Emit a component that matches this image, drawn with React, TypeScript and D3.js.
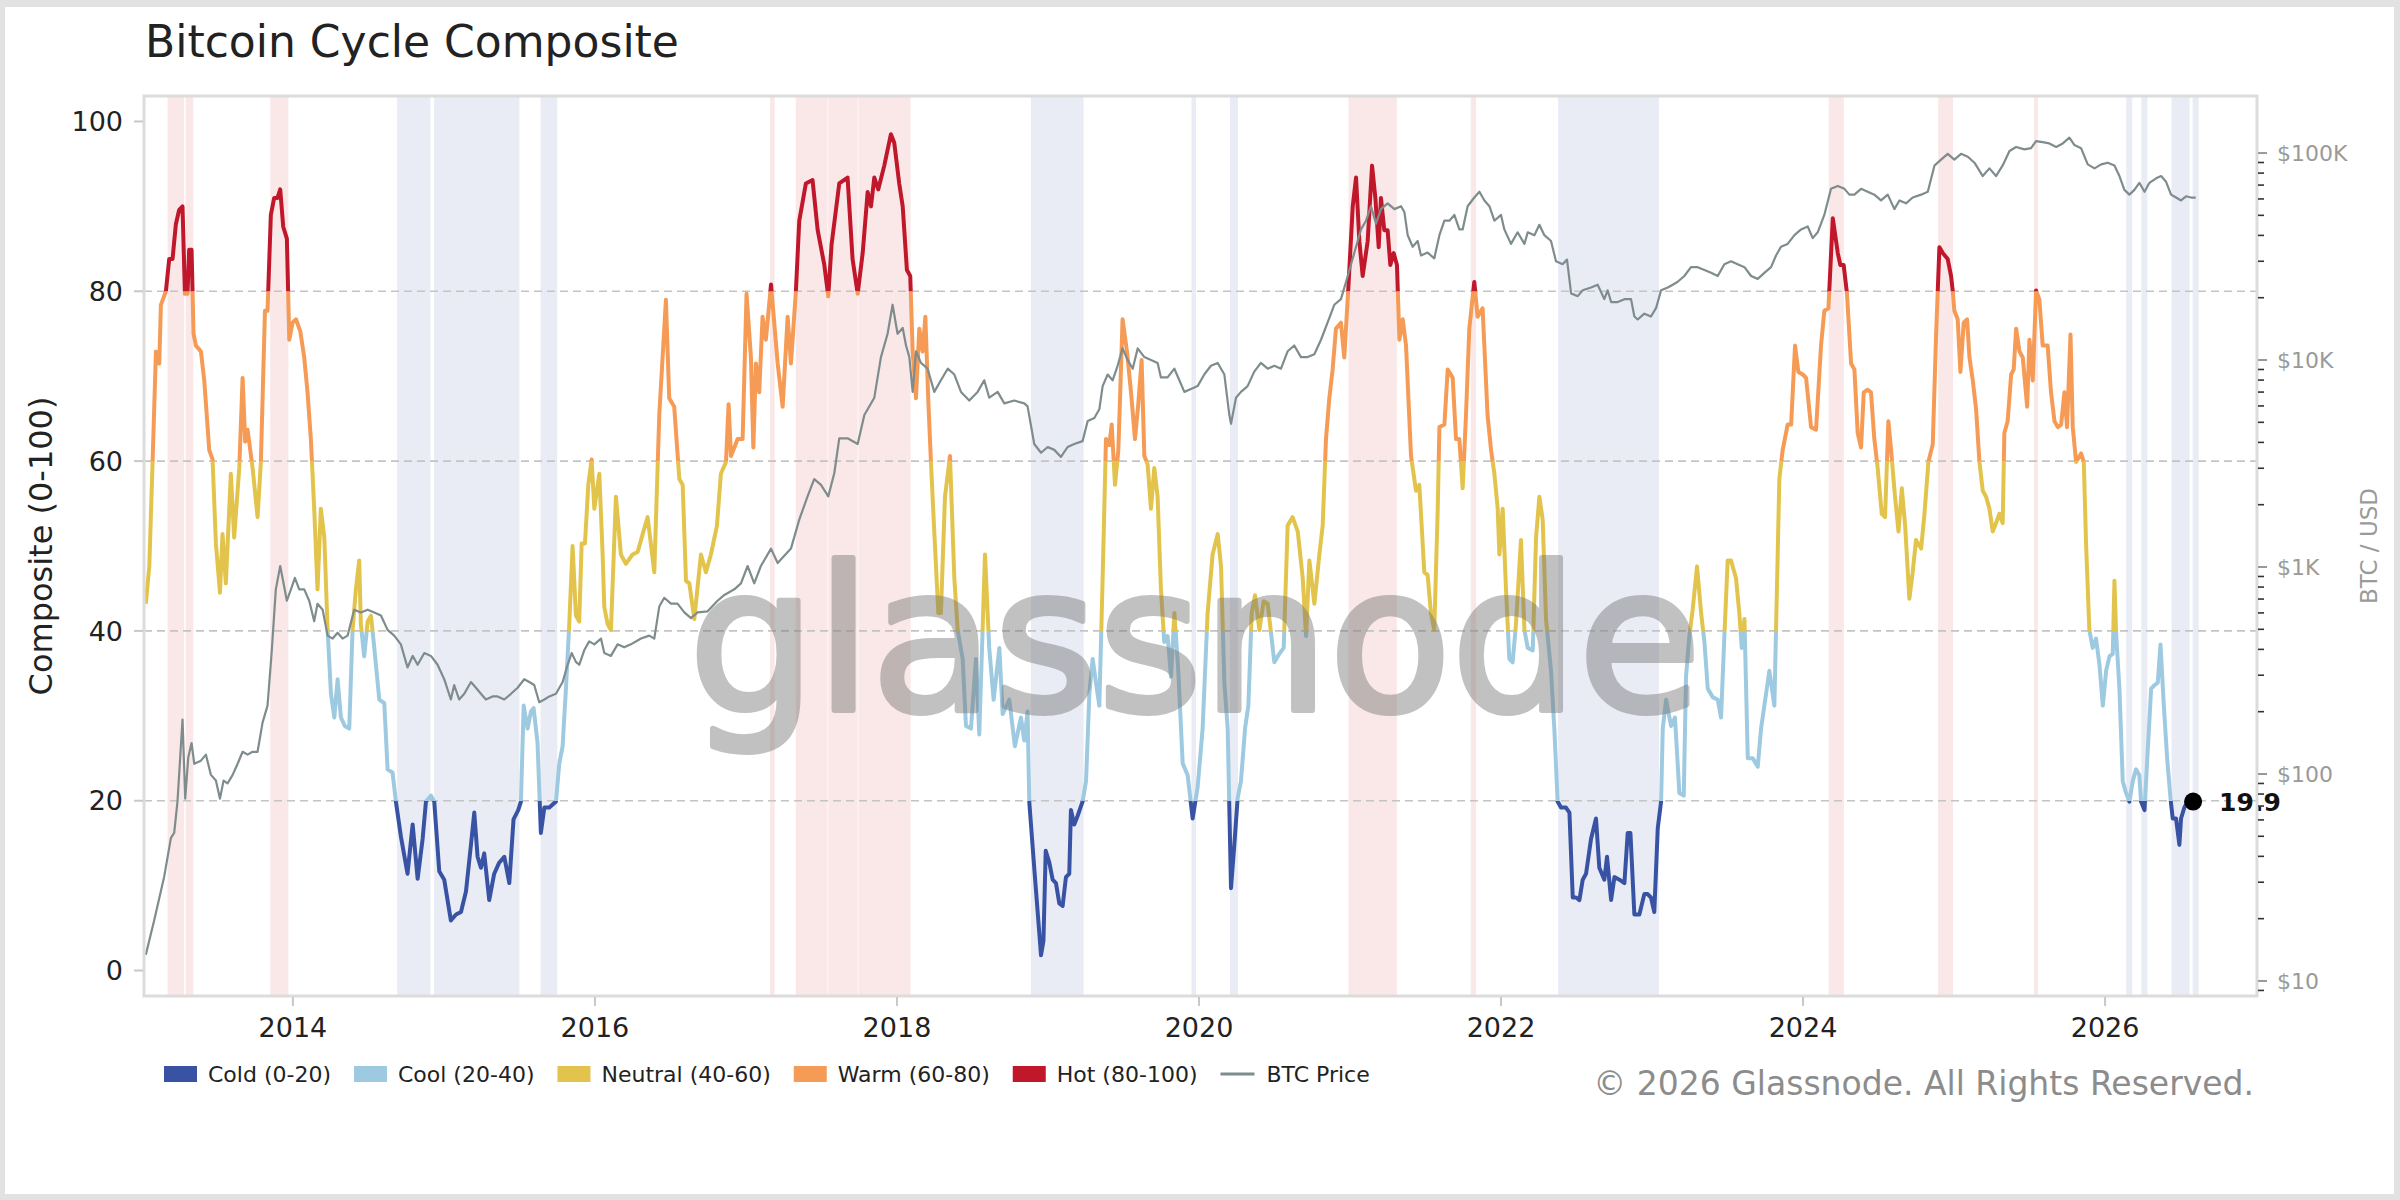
import { useEffect, useRef } from "react";
import * as d3 from "d3";

type Pt = [number, number];

// composite score (decimal year, 0-100)
const compositeA: Pt[] = [
  [2013.026, 43.2], [2013.049, 47.6], [2013.071, 60.0], [2013.093, 72.9], [2013.115, 71.5], [2013.126, 78.4],
  [2013.159, 80.0], [2013.181, 83.8], [2013.203, 83.8], [2013.225, 87.9], [2013.247, 89.6], [2013.269, 90.0],
  [2013.285, 79.7], [2013.302, 79.7], [2013.313, 84.9], [2013.329, 84.9], [2013.342, 75.0], [2013.358, 73.6],
  [2013.391, 72.9], [2013.413, 69.5], [2013.446, 61.3], [2013.468, 60.2], [2013.49, 50.3], [2013.517, 44.5],
  [2013.534, 51.4], [2013.556, 45.6], [2013.589, 58.5], [2013.611, 51.0], [2013.645, 59.2], [2013.667, 69.8],
  [2013.684, 62.3], [2013.7, 63.7], [2013.733, 59.2], [2013.766, 53.4], [2013.788, 59.9], [2013.815, 77.7],
  [2013.832, 77.7], [2013.854, 89.0], [2013.876, 91.0], [2013.898, 91.0], [2013.916, 92.0], [2013.936, 87.6],
  [2013.96, 86.2], [2013.976, 74.3], [2013.998, 76.3], [2014.02, 76.7], [2014.049, 75.3], [2014.075, 72.2],
  [2014.097, 68.1], [2014.119, 62.6], [2014.141, 54.4], [2014.163, 44.9], [2014.185, 54.4], [2014.208, 51.0],
  [2014.23, 40.1], [2014.252, 32.6], [2014.274, 29.8], [2014.296, 34.3], [2014.318, 29.8], [2014.344, 28.8],
  [2014.373, 28.5], [2014.395, 40.1], [2014.417, 44.9], [2014.439, 48.3], [2014.45, 40.8], [2014.472, 37.0],
  [2014.495, 41.1], [2014.517, 41.8], [2014.539, 38.0], [2014.572, 31.9], [2014.605, 31.5], [2014.627, 23.7],
  [2014.66, 23.3], [2014.682, 19.9], [2014.715, 15.8], [2014.759, 11.4], [2014.793, 17.2], [2014.826, 10.8],
  [2014.859, 15.5], [2014.881, 19.9], [2014.914, 20.6], [2014.936, 19.9], [2014.969, 11.7], [2015.002, 10.7],
  [2015.046, 5.9], [2015.08, 6.6], [2015.113, 6.9], [2015.146, 9.3], [2015.179, 14.8], [2015.201, 18.6],
  [2015.223, 13.4], [2015.245, 12.1], [2015.267, 13.8], [2015.3, 8.3], [2015.333, 11.4], [2015.366, 12.7],
  [2015.4, 13.4], [2015.433, 10.3], [2015.461, 17.8], [2015.492, 18.9], [2015.51, 19.9], [2015.528, 31.2],
  [2015.554, 28.5], [2015.576, 30.5], [2015.594, 30.9], [2015.62, 26.8], [2015.642, 16.2], [2015.665, 19.2],
  [2015.698, 19.2], [2015.742, 19.9], [2015.764, 24.4], [2015.786, 26.4], [2015.808, 33.2], [2015.83, 40.8],
  [2015.852, 50.0], [2015.874, 41.8], [2015.896, 41.1], [2015.912, 50.3], [2015.934, 50.3], [2015.956, 57.2],
  [2015.978, 60.2],
];

const compositeB: Pt[] = [
  [2015.996, 54.4], [2016.029, 58.5], [2016.051, 49.0], [2016.062, 42.8], [2016.084, 40.8], [2016.106, 40.1],
  [2016.139, 55.8], [2016.172, 49.0], [2016.205, 47.9], [2016.249, 49.0], [2016.283, 49.3], [2016.316, 51.4],
  [2016.349, 53.4], [2016.393, 46.9], [2016.426, 65.4], [2016.47, 79.0], [2016.492, 67.4], [2016.525, 66.4],
  [2016.559, 57.9], [2016.581, 57.2], [2016.603, 45.9], [2016.625, 45.6], [2016.658, 41.4], [2016.702, 49.0],
  [2016.735, 46.9], [2016.768, 49.0], [2016.808, 52.4], [2016.834, 58.5], [2016.868, 59.9], [2016.885, 66.7],
  [2016.901, 60.6], [2016.945, 62.6], [2016.978, 62.6], [2017.004, 79.7], [2017.033, 72.2], [2017.049, 61.6],
  [2017.066, 71.5], [2017.088, 68.1], [2017.11, 77.0], [2017.132, 74.3], [2017.166, 80.8], [2017.21, 71.5],
  [2017.243, 66.4], [2017.276, 77.0], [2017.298, 71.5], [2017.331, 80.1], [2017.353, 88.3], [2017.397, 92.7],
  [2017.441, 93.1], [2017.475, 87.2], [2017.519, 83.1], [2017.545, 79.4], [2017.567, 85.5], [2017.618, 92.7],
  [2017.673, 93.4], [2017.706, 83.8], [2017.74, 79.7], [2017.773, 84.5], [2017.806, 91.7], [2017.828, 90.0],
  [2017.85, 93.4], [2017.876, 92.0], [2017.916, 94.8], [2017.96, 98.5], [2017.982, 97.5], [2018.015, 92.7],
  [2018.038, 90.0], [2018.066, 82.5], [2018.088, 81.8], [2018.104, 72.9], [2018.126, 67.4], [2018.148, 75.6],
  [2018.17, 72.9], [2018.188, 77.0], [2018.207, 67.4], [2018.225, 59.9], [2018.247, 51.7], [2018.274, 42.1],
  [2018.291, 42.1], [2018.318, 55.8], [2018.351, 60.6], [2018.38, 46.2], [2018.402, 40.1], [2018.435, 36.7],
  [2018.457, 28.8], [2018.49, 28.5], [2018.523, 36.7], [2018.545, 27.8], [2018.583, 49.0], [2018.611, 38.0],
  [2018.64, 31.9], [2018.678, 38.0], [2018.7, 30.2], [2018.744, 31.9], [2018.781, 26.4], [2018.821, 29.8],
  [2018.843, 27.1], [2018.865, 30.5], [2018.876, 19.9], [2018.909, 12.1], [2018.954, 1.8], [2018.97, 3.5],
  [2018.985, 14.1],
];

const compositeC: Pt[] = [
  [2019.009, 12.7], [2019.031, 10.7], [2019.053, 10.3], [2019.075, 7.9], [2019.097, 7.6], [2019.119, 11.0],
  [2019.141, 11.4], [2019.152, 18.9], [2019.174, 17.2], [2019.196, 18.2], [2019.229, 19.9], [2019.252, 22.3],
  [2019.274, 32.6], [2019.296, 36.7], [2019.318, 33.9], [2019.34, 31.2], [2019.362, 46.2], [2019.384, 62.6],
  [2019.406, 61.9], [2019.422, 64.3], [2019.444, 57.2], [2019.466, 61.3], [2019.494, 76.7], [2019.523, 72.9],
  [2019.55, 68.1], [2019.576, 62.6], [2019.598, 66.7], [2019.62, 71.9], [2019.638, 60.6], [2019.66, 59.6],
  [2019.682, 54.4], [2019.704, 59.2], [2019.726, 55.8], [2019.748, 44.9], [2019.77, 38.7], [2019.792, 39.4],
  [2019.815, 34.6], [2019.837, 42.1], [2019.863, 35.3], [2019.892, 24.4], [2019.925, 23.0], [2019.958, 17.9],
  [2019.991, 21.6], [2020.024, 28.5], [2020.057, 42.1], [2020.09, 49.0], [2020.124, 51.4], [2020.146, 47.6],
  [2020.168, 33.9], [2020.19, 28.5], [2020.212, 9.7], [2020.234, 14.8], [2020.256, 20.3], [2020.278, 22.3],
  [2020.305, 28.5], [2020.327, 31.2], [2020.349, 42.1], [2020.371, 44.2], [2020.4, 40.1], [2020.428, 43.5],
  [2020.455, 43.2], [2020.499, 36.3], [2020.532, 37.3], [2020.561, 38.0], [2020.587, 52.4], [2020.62, 53.4],
  [2020.654, 51.7], [2020.687, 46.2], [2020.709, 39.4], [2020.731, 48.3], [2020.764, 43.2], [2020.797, 49.0],
  [2020.819, 52.4], [2020.841, 62.6], [2020.863, 67.4], [2020.885, 70.8], [2020.907, 75.6], [2020.94, 76.3],
  [2020.962, 72.2], [2020.989, 80.4], [2021.018, 90.0], [2021.04, 93.4], [2021.062, 85.9], [2021.084, 81.8],
  [2021.117, 85.9], [2021.146, 94.8], [2021.168, 91.0], [2021.19, 85.2], [2021.205, 91.0], [2021.227, 87.2],
  [2021.249, 87.2], [2021.267, 83.1], [2021.289, 84.5], [2021.311, 83.1], [2021.327, 74.3], [2021.349, 76.7],
  [2021.371, 73.6], [2021.404, 60.6], [2021.437, 56.5], [2021.459, 57.2], [2021.492, 46.9], [2021.514, 46.6],
  [2021.536, 42.1], [2021.558, 40.1], [2021.581, 54.4], [2021.592, 64.0], [2021.625, 64.3], [2021.647, 70.8],
  [2021.68, 69.8], [2021.702, 62.6], [2021.724, 62.6], [2021.746, 56.8], [2021.768, 65.4], [2021.79, 75.6],
  [2021.823, 81.1], [2021.845, 77.0], [2021.878, 78.0], [2021.911, 65.4], [2021.934, 61.3], [2021.956, 58.5],
  [2021.978, 54.4],
];

const compositeD: Pt[] = [
  [2021.989, 49.0], [2022.011, 54.4], [2022.033, 44.9], [2022.055, 36.7], [2022.077, 36.3], [2022.099, 40.8],
  [2022.132, 50.7], [2022.155, 40.1], [2022.177, 38.0], [2022.21, 37.7], [2022.232, 51.0], [2022.254, 55.8],
  [2022.276, 53.1], [2022.298, 41.4], [2022.331, 35.3], [2022.353, 28.5], [2022.375, 19.9], [2022.397, 19.2],
  [2022.43, 19.2], [2022.453, 18.6], [2022.475, 8.6], [2022.497, 8.6], [2022.519, 8.3], [2022.541, 10.7],
  [2022.563, 11.4], [2022.596, 15.5], [2022.629, 17.9], [2022.651, 12.1], [2022.684, 10.7], [2022.702, 13.4],
  [2022.729, 8.3], [2022.751, 11.0], [2022.784, 10.7], [2022.817, 10.3], [2022.839, 16.2], [2022.857, 16.2],
  [2022.883, 6.6], [2022.916, 6.6], [2022.949, 9.0], [2022.971, 9.0], [2022.993, 8.6], [2023.015, 6.9],
  [2023.038, 16.8], [2023.06, 19.9], [2023.071, 28.5], [2023.093, 31.9], [2023.126, 28.8], [2023.152, 29.8],
  [2023.181, 20.9], [2023.21, 20.6], [2023.225, 34.6], [2023.247, 39.4], [2023.269, 42.5], [2023.298, 47.6],
  [2023.325, 42.1], [2023.347, 38.7], [2023.369, 33.2], [2023.402, 32.2], [2023.435, 31.9], [2023.457, 29.8],
  [2023.479, 39.4], [2023.501, 48.3], [2023.523, 48.3], [2023.556, 46.2], [2023.578, 42.1], [2023.594, 38.0],
  [2023.612, 41.4], [2023.634, 25.0], [2023.667, 25.0], [2023.7, 24.0], [2023.722, 28.5], [2023.755, 32.6],
  [2023.777, 35.3], [2023.81, 31.2], [2023.821, 40.1], [2023.843, 57.9], [2023.865, 61.3], [2023.898, 64.3],
  [2023.921, 64.3], [2023.947, 73.6], [2023.969, 70.5], [2023.998, 70.2], [2024.02, 69.8], [2024.053, 64.0],
  [2024.086, 63.7], [2024.119, 73.6], [2024.141, 77.7], [2024.168, 78.0], [2024.197, 88.6], [2024.23, 84.5],
  [2024.247, 83.1], [2024.269, 83.1], [2024.291, 79.7], [2024.318, 71.5], [2024.34, 70.8], [2024.362, 63.3],
  [2024.384, 61.6], [2024.402, 68.1], [2024.428, 68.4], [2024.45, 68.1], [2024.472, 62.6], [2024.494, 59.2],
  [2024.521, 53.8], [2024.543, 53.4], [2024.565, 64.7], [2024.583, 61.3], [2024.609, 55.8], [2024.632, 51.7],
  [2024.654, 56.8], [2024.676, 52.4], [2024.704, 43.8], [2024.726, 46.9], [2024.748, 50.7], [2024.782, 49.7],
  [2024.804, 53.8], [2024.83, 59.9], [2024.859, 62.0], [2024.881, 74.9], [2024.903, 85.2], [2024.925, 84.5],
  [2024.958, 83.8], [2024.98, 81.8], [2024.991, 80.1],
];

const compositeE: Pt[] = [
  [2025.002, 77.7], [2025.024, 76.7], [2025.042, 70.5], [2025.064, 76.3], [2025.086, 76.7], [2025.102, 72.2],
  [2025.124, 69.5], [2025.146, 66.1], [2025.168, 59.9], [2025.19, 56.5], [2025.212, 55.8], [2025.234, 54.4],
  [2025.256, 51.7], [2025.278, 52.7], [2025.3, 53.8], [2025.322, 52.7], [2025.333, 63.3], [2025.355, 64.7],
  [2025.378, 70.2], [2025.395, 70.8], [2025.411, 75.6], [2025.433, 72.9], [2025.455, 72.2], [2025.484, 66.4],
  [2025.499, 74.3], [2025.521, 69.5], [2025.543, 80.1], [2025.565, 79.0], [2025.587, 73.6], [2025.62, 73.6],
  [2025.642, 68.1], [2025.665, 64.7], [2025.687, 64.0], [2025.709, 64.3], [2025.731, 68.1], [2025.748, 64.0],
  [2025.771, 74.9], [2025.786, 64.0], [2025.808, 59.9], [2025.841, 60.9], [2025.859, 59.9], [2025.874, 50.3],
  [2025.896, 40.1], [2025.918, 38.0], [2025.94, 39.1], [2025.963, 36.0], [2025.985, 31.2], [2026.007, 35.3],
  [2026.029, 37.0], [2026.051, 37.3], [2026.062, 45.9], [2026.073, 39.7], [2026.095, 33.2], [2026.117, 22.3],
  [2026.139, 20.9], [2026.161, 19.9], [2026.183, 22.3], [2026.205, 23.7], [2026.227, 23.0], [2026.238, 19.9],
  [2026.261, 18.9], [2026.283, 26.1], [2026.305, 33.2], [2026.327, 33.6], [2026.349, 33.9], [2026.367, 38.4],
  [2026.389, 31.2], [2026.411, 25.0], [2026.433, 20.3], [2026.448, 17.9], [2026.47, 17.9], [2026.492, 14.8],
  [2026.503, 17.9], [2026.525, 19.2], [2026.547, 19.9], [2026.583, 19.9],
];

// BTC price (decimal year, USD)
const priceA: Pt[] = [
  [2013.026, 13.4], [2013.082, 19.7], [2013.148, 32], [2013.192, 49], [2013.214, 52], [2013.236, 74],
  [2013.269, 183], [2013.287, 76], [2013.307, 120], [2013.329, 141], [2013.347, 112], [2013.391, 116],
  [2013.424, 124], [2013.457, 99], [2013.49, 93], [2013.517, 76], [2013.541, 93], [2013.567, 90],
  [2013.601, 99], [2013.634, 112], [2013.667, 128], [2013.7, 124], [2013.733, 128], [2013.766, 128],
  [2013.799, 177], [2013.832, 214], [2013.859, 384], [2013.887, 780], [2013.916, 1011], [2013.938, 834],
  [2013.96, 687], [2013.987, 780], [2014.013, 887], [2014.042, 780], [2014.075, 780], [2014.108, 687],
  [2014.141, 547], [2014.163, 664], [2014.197, 622], [2014.23, 466], [2014.263, 451], [2014.296, 481],
  [2014.329, 451], [2014.362, 466], [2014.406, 622], [2014.45, 603], [2014.495, 622], [2014.539, 603],
  [2014.583, 583], [2014.627, 497], [2014.671, 466], [2014.715, 423], [2014.759, 327], [2014.793, 372],
  [2014.826, 337], [2014.87, 384], [2014.914, 372], [2014.958, 337], [2015.002, 287], [2015.046, 229],
  [2015.068, 269], [2015.101, 229], [2015.135, 244], [2015.179, 278], [2015.212, 261], [2015.245, 244],
  [2015.278, 229], [2015.322, 237], [2015.355, 237], [2015.4, 229], [2015.444, 244], [2015.488, 261],
  [2015.532, 287], [2015.565, 278], [2015.598, 269], [2015.631, 222], [2015.665, 229], [2015.698, 237],
  [2015.742, 244], [2015.786, 278], [2015.819, 337], [2015.846, 384], [2015.874, 348], [2015.896, 337],
  [2015.929, 396], [2015.962, 437], [2015.996, 423], [2016.04, 451],
];

const priceB: Pt[] = [
  [2016.062, 384], [2016.106, 372], [2016.15, 423], [2016.194, 409], [2016.238, 423], [2016.305, 451],
  [2016.36, 466], [2016.393, 451], [2016.426, 644], [2016.459, 710], [2016.503, 665], [2016.547, 665],
  [2016.592, 604], [2016.636, 566], [2016.68, 604], [2016.746, 611], [2016.812, 687], [2016.857, 733],
  [2016.923, 780], [2016.967, 834], [2017.011, 1011], [2017.055, 834], [2017.099, 1011], [2017.166, 1227],
  [2017.21, 1045], [2017.298, 1227], [2017.353, 1694], [2017.408, 2193], [2017.452, 2660], [2017.497, 2495],
  [2017.545, 2193], [2017.585, 2838], [2017.618, 4185], [2017.673, 4185], [2017.74, 3929], [2017.784, 5420],
  [2017.85, 6577], [2017.894, 10330], [2017.938, 13400], [2017.971, 18500], [2018.004, 13400], [2018.038, 14290],
  [2018.06, 11750], [2018.082, 10330], [2018.104, 7015], [2018.126, 11020], [2018.159, 9680], [2018.203, 9080],
  [2018.247, 7015], [2018.291, 7980], [2018.336, 9080], [2018.38, 8510], [2018.424, 7015], [2018.479, 6370],
  [2018.534, 7015], [2018.578, 7980], [2018.611, 6577], [2018.667, 7015], [2018.711, 6170], [2018.777, 6370],
  [2018.843, 6170], [2018.865, 5970], [2018.909, 3929], [2018.954, 3565],
];

const priceC: Pt[] = [
  [2018.998, 3800], [2019.042, 3680], [2019.086, 3404], [2019.13, 3800], [2019.174, 3929], [2019.229, 4055],
  [2019.263, 5070], [2019.307, 5245], [2019.34, 5780], [2019.362, 7480], [2019.395, 8510], [2019.428, 7980],
  [2019.461, 9380], [2019.494, 11380], [2019.528, 10000], [2019.561, 9080], [2019.594, 11380], [2019.638, 10330],
  [2019.682, 10000], [2019.726, 9680], [2019.748, 8240], [2019.792, 8240], [2019.837, 9080], [2019.87, 7980],
  [2019.903, 7015], [2019.947, 7240], [2019.991, 7480], [2020.035, 8510], [2020.079, 9380], [2020.124, 9680],
  [2020.168, 8510], [2020.201, 5420], [2020.212, 4920], [2020.245, 6577], [2020.278, 7015], [2020.322, 7480],
  [2020.366, 8790], [2020.41, 9680], [2020.455, 9080], [2020.499, 9380], [2020.543, 9080], [2020.587, 11020],
  [2020.631, 11750], [2020.675, 10330], [2020.72, 10330], [2020.764, 10670], [2020.808, 12530], [2020.852, 15210],
  [2020.896, 18490], [2020.94, 19690], [2020.974, 23880], [2021.007, 29040], [2021.04, 35240], [2021.073, 42760],
  [2021.106, 47100], [2021.139, 55340], [2021.172, 45600], [2021.205, 53580], [2021.249, 57150], [2021.294, 53580],
  [2021.338, 55340], [2021.36, 51880], [2021.382, 40090], [2021.415, 35240], [2021.448, 37580], [2021.47, 31990],
  [2021.514, 33040], [2021.558, 30970], [2021.592, 40090], [2021.625, 47100], [2021.658, 47100], [2021.691, 50230],
  [2021.724, 42760], [2021.746, 42760], [2021.779, 55340], [2021.823, 60950], [2021.857, 65010], [2021.89, 59020],
  [2021.923, 55340], [2021.956, 47100], [2022.0, 50230],
];

const priceD: Pt[] = [
  [2022.022, 42760], [2022.066, 36390], [2022.11, 41400], [2022.155, 36390], [2022.177, 41400], [2022.221, 40090],
  [2022.254, 44980], [2022.287, 40090], [2022.331, 37580], [2022.364, 29990], [2022.408, 29040], [2022.437, 30550],
  [2022.464, 20990], [2022.508, 20350], [2022.541, 21720], [2022.596, 22410], [2022.64, 23120], [2022.684, 19680],
  [2022.706, 21720], [2022.729, 19060], [2022.773, 19060], [2022.817, 19680], [2022.861, 19680], [2022.883, 16220],
  [2022.905, 15700], [2022.949, 16750], [2022.993, 16220], [2023.027, 17870], [2023.06, 21720], [2023.104, 22410],
  [2023.137, 23120], [2023.17, 23880], [2023.214, 25460], [2023.258, 28100], [2023.302, 28100], [2023.347, 27230],
  [2023.391, 26380], [2023.435, 25460], [2023.479, 29040], [2023.523, 29990], [2023.567, 29040], [2023.612, 28100],
  [2023.656, 25460], [2023.7, 24660], [2023.744, 26380], [2023.788, 28100], [2023.821, 31990], [2023.854, 35240],
  [2023.898, 36390], [2023.943, 40090], [2023.987, 42760], [2024.031, 44160], [2024.064, 38810], [2024.097, 41400],
  [2024.141, 50230], [2024.185, 67140], [2024.23, 69340], [2024.274, 67140], [2024.307, 62950], [2024.34, 62950],
  [2024.384, 67140], [2024.428, 65010], [2024.472, 62950], [2024.516, 59020], [2024.561, 62950], [2024.605, 53580],
  [2024.638, 59020], [2024.682, 57150], [2024.726, 60950], [2024.782, 62950], [2024.826, 65010], [2024.87, 86900],
  [2024.914, 92900], [2024.958, 99100],
];

const priceE: Pt[] = [
  [2025.002, 92900], [2025.046, 99100], [2025.091, 96000], [2025.135, 89800], [2025.19, 77400], [2025.234, 84300],
  [2025.278, 77400], [2025.322, 87100], [2025.367, 102300], [2025.411, 107000], [2025.466, 104200], [2025.51, 105600],
  [2025.543, 114200], [2025.587, 112800], [2025.631, 111300], [2025.676, 107000], [2025.72, 111300], [2025.764, 118600],
  [2025.797, 109200], [2025.841, 105600], [2025.885, 88100], [2025.93, 84300], [2025.974, 88100], [2026.018, 89800],
  [2026.062, 87100], [2026.095, 77400], [2026.128, 66400], [2026.161, 62950], [2026.194, 66400], [2026.227, 71800],
  [2026.261, 65010], [2026.294, 71800], [2026.338, 75500], [2026.371, 77400], [2026.404, 72600], [2026.437, 62950],
  [2026.47, 60950], [2026.503, 59020], [2026.536, 61800], [2026.57, 60950], [2026.6, 60950],
];

// shaded regimes (start, end in decimal years)
const hotBands: Pt[] = [
  [2013.17, 2013.28], [2013.29, 2013.34], [2013.85, 2013.97], [2017.16, 2017.19], [2017.33, 2017.54],
  [2017.545, 2017.74], [2017.745, 2018.09], [2020.99, 2021.31], [2021.8, 2021.835], [2024.17, 2024.27],
  [2024.895, 2024.993], [2025.53, 2025.555],
];
const coldBands: Pt[] = [
  [2014.69, 2014.91], [2014.935, 2015.5], [2015.64, 2015.75], [2018.887, 2019.236], [2019.95, 2019.98],
  [2020.205, 2020.258], [2022.378, 2023.046], [2026.14, 2026.18], [2026.24, 2026.28], [2026.44, 2026.56],
  [2026.58, 2026.62],
];

const regimeLabels = ["Cold (0-20)", "Cool (20-40)", "Neutral (40-60)", "Warm (60-80)", "Hot (80-100)"];
const regimeBreaks = [0, 20, 40, 60, 80, 100];
const yTicks = [0, 20, 40, 60, 80, 100];
const gridLevels = [20, 40, 60, 80];
const xTicks = [2014, 2016, 2018, 2020, 2022, 2024, 2026];
const priceTicks = [10, 100, 1000, 10000, 100000];
const priceTickLabels = ["$10", "$100", "$1K", "$10K", "$100K"];
const lastPoint: Pt = [2026.583, 19.9];

const regimeColors = ["#3953a4", "#9ecae1", "#e2c44c", "#f59b56", "#c0172b"];
const priceColor = "#7f8c8d";
const FONT = "'DejaVu Sans', Verdana, sans-serif";

export default function App() {
  const svgRef = useRef<SVGSVGElement>(null);

  useEffect(() => {
    if (!svgRef.current) return;
    document.body.style.margin = "0";
    const svg = d3.select(svgRef.current);
    svg.selectAll("*").remove();

    const width = 2400;
    const height = 1200;
    const plot = { left: 144, right: 2257, top: 96, bottom: 996 };

    const composite = [...compositeA, ...compositeB, ...compositeC, ...compositeD, ...compositeE];
    const price = [...priceA, ...priceB, ...priceC, ...priceD, ...priceE];

    const x = d3.scaleLinear().domain([2013.014, 2027.006]).range([plot.left, plot.right]);
    const y = d3.scaleLinear().domain([-3, 103]).range([plot.bottom, plot.top]);
    const yp = d3.scaleLog().domain([8.46, 188600]).range([plot.bottom, plot.top]);

    // frame
    svg.append("rect").attr("width", width).attr("height", height).attr("fill", "#e2e2e2");
    svg.append("rect").attr("x", 5).attr("y", 7).attr("width", 2389).attr("height", 1187).attr("fill", "#ffffff");

    const defs = svg.append("defs");
    defs.append("clipPath").attr("id", "plot-clip").append("rect")
      .attr("x", plot.left).attr("y", plot.top)
      .attr("width", plot.right - plot.left).attr("height", plot.bottom - plot.top);

    // title
    svg.append("text")
      .attr("x", 145).attr("y", 57)
      .attr("font-family", FONT).attr("font-size", 44).attr("fill", "#222")
      .text("Bitcoin Cycle Composite");

    const g = svg.append("g").attr("clip-path", "url(#plot-clip)");

    // regime spans
    g.append("g").selectAll("rect").data(hotBands).join("rect")
      .attr("x", (d) => x(d[0])).attr("width", (d) => x(d[1]) - x(d[0]))
      .attr("y", plot.top).attr("height", plot.bottom - plot.top)
      .attr("fill", "#d62728").attr("fill-opacity", 0.11);
    g.append("g").selectAll("rect").data(coldBands).join("rect")
      .attr("x", (d) => x(d[0])).attr("width", (d) => x(d[1]) - x(d[0]))
      .attr("y", plot.top).attr("height", plot.bottom - plot.top)
      .attr("fill", "#3953a4").attr("fill-opacity", 0.11);

    // grid
    g.append("g").selectAll("line").data(gridLevels).join("line")
      .attr("x1", plot.left).attr("x2", plot.right)
      .attr("y1", (d) => y(d)).attr("y2", (d) => y(d))
      .attr("stroke", "#c4c4c4").attr("stroke-width", 1.6).attr("stroke-dasharray", "8,5");

    // composite line, coloured by regime via clip bands
    const line = d3.line<Pt>().x((d) => x(d[0])).y((d) => y(d[1]));
    regimeColors.forEach((color, i) => {
      const lo = i === 0 ? -50 : regimeBreaks[i];
      const hi = i === regimeColors.length - 1 ? 200 : regimeBreaks[i + 1];
      const id = `regime-clip-${i}`;
      defs.append("clipPath").attr("id", id).append("rect")
        .attr("x", plot.left - 10).attr("width", plot.right - plot.left + 20)
        .attr("y", y(hi)).attr("height", y(lo) - y(hi));
      g.append("g").attr("clip-path", `url(#${id})`)
        .append("path").datum(composite)
        .attr("d", line)
        .attr("fill", "none")
        .attr("stroke", color)
        .attr("stroke-width", 4)
        .attr("stroke-linejoin", "round");
    });

    // BTC price (log)
    const priceLine = d3.line<Pt>().x((d) => x(d[0])).y((d) => yp(d[1]));
    g.append("path").datum(price)
      .attr("d", priceLine)
      .attr("fill", "none")
      .attr("stroke", priceColor)
      .attr("stroke-width", 2.2)
      .attr("stroke-linejoin", "round");

    // watermark
    svg.append("g").attr("opacity", 0.45)
      .append("text")
      .attr("x", 1195).attr("y", 710)
      .attr("text-anchor", "middle")
      .attr("font-family", FONT).attr("font-size", 200)
      .attr("fill", "#777").attr("stroke", "#777").attr("stroke-width", 6)
      .attr("stroke-linejoin", "round")
      .text("glassnode");

    // latest value
    svg.append("circle")
      .attr("cx", x(lastPoint[0])).attr("cy", y(lastPoint[1])).attr("r", 9)
      .attr("fill", "#000");
    svg.append("text")
      .attr("x", x(lastPoint[0]) + 26).attr("y", y(lastPoint[1])).attr("dy", "0.36em")
      .attr("font-family", FONT).attr("font-size", 25).attr("font-weight", "bold").attr("fill", "#111")
      .text(lastPoint[1].toFixed(1));

    // spines
    svg.append("rect")
      .attr("x", plot.left).attr("y", plot.top)
      .attr("width", plot.right - plot.left).attr("height", plot.bottom - plot.top)
      .attr("fill", "none").attr("stroke", "#dcdcdc").attr("stroke-width", 3);

    // left axis
    const left = svg.append("g");
    left.selectAll("line").data(yTicks).join("line")
      .attr("x1", plot.left - 10).attr("x2", plot.left - 1)
      .attr("y1", (d) => y(d)).attr("y2", (d) => y(d))
      .attr("stroke", "#c8c8c8").attr("stroke-width", 2);
    left.selectAll("text").data(yTicks).join("text")
      .attr("x", plot.left - 21).attr("y", (d) => y(d)).attr("dy", "0.36em")
      .attr("text-anchor", "end")
      .attr("font-family", FONT).attr("font-size", 27).attr("fill", "#222")
      .text((d) => d);
    svg.append("text")
      .attr("transform", `translate(52,${(plot.top + plot.bottom) / 2}) rotate(-90)`)
      .attr("text-anchor", "middle")
      .attr("font-family", FONT).attr("font-size", 32).attr("fill", "#222")
      .text("Composite (0-100)");

    // bottom axis
    const bottom = svg.append("g");
    bottom.selectAll("line").data(xTicks).join("line")
      .attr("x1", (d) => x(d)).attr("x2", (d) => x(d))
      .attr("y1", plot.bottom + 1).attr("y2", plot.bottom + 10)
      .attr("stroke", "#c8c8c8").attr("stroke-width", 2);
    bottom.selectAll("text").data(xTicks).join("text")
      .attr("x", (d) => x(d)).attr("y", 1037)
      .attr("text-anchor", "middle")
      .attr("font-family", FONT).attr("font-size", 27).attr("fill", "#222")
      .text((d) => d);

    // right axis (log)
    const right = svg.append("g");
    const minor: number[] = [];
    for (let e = 0; e <= 5; e++) {
      for (let m = 2; m <= 9; m++) {
        const v = m * Math.pow(10, e);
        if (v > yp.domain()[0] && v < yp.domain()[1]) minor.push(v);
      }
    }
    right.append("g").selectAll("line").data(minor).join("line")
      .attr("x1", plot.right + 1).attr("x2", plot.right + 7)
      .attr("y1", (d) => yp(d)).attr("y2", (d) => yp(d))
      .attr("stroke", "#333").attr("stroke-width", 1.6);
    right.append("g").selectAll("line").data(priceTicks).join("line")
      .attr("x1", plot.right + 1).attr("x2", plot.right + 10)
      .attr("y1", (d) => yp(d)).attr("y2", (d) => yp(d))
      .attr("stroke", "#999").attr("stroke-width", 2);
    right.append("g").selectAll("text").data(priceTicks).join("text")
      .attr("x", plot.right + 20).attr("y", (d) => yp(d)).attr("dy", "0.36em")
      .attr("font-family", FONT).attr("font-size", 22).attr("fill", "#9a9a9a")
      .text((_, i) => priceTickLabels[i]);
    svg.append("text")
      .attr("transform", `translate(2377,${(plot.top + plot.bottom) / 2}) rotate(-90)`)
      .attr("text-anchor", "middle")
      .attr("font-family", FONT).attr("font-size", 23).attr("fill", "#9a9a9a")
      .text("BTC / USD");

    // legend
    const ctx = document.createElement("canvas").getContext("2d");
    const legendFont = 22;
    if (ctx) ctx.font = `${legendFont}px 'DejaVu Sans'`;
    const measure = (s: string) => (ctx ? ctx.measureText(s).width : s.length * legendFont * 0.58);
    const legend = svg.append("g");
    let lx = 164;
    const ly = 1074;
    regimeLabels.forEach((label, i) => {
      legend.append("rect")
        .attr("x", lx).attr("y", ly - 8).attr("width", 33).attr("height", 16)
        .attr("fill", regimeColors[i]);
      legend.append("text")
        .attr("x", lx + 44).attr("y", ly).attr("dy", "0.36em")
        .attr("font-family", FONT).attr("font-size", legendFont).attr("fill", "#222")
        .text(label);
      lx += 44 + measure(label) + 23;
    });
    legend.append("line")
      .attr("x1", lx).attr("x2", lx + 34).attr("y1", ly).attr("y2", ly)
      .attr("stroke", priceColor).attr("stroke-width", 3);
    legend.append("text")
      .attr("x", lx + 46).attr("y", ly).attr("dy", "0.36em")
      .attr("font-family", FONT).attr("font-size", legendFont).attr("fill", "#222")
      .text("BTC Price");

    // copyright
    svg.append("text")
      .attr("x", 2254).attr("y", 1095)
      .attr("text-anchor", "end")
      .attr("font-family", FONT).attr("font-size", 33).attr("fill", "#8c8c8c")
      .text("© 2026 Glassnode. All Rights Reserved.");
  }, []);

  return <svg ref={svgRef} width={2400} height={1200} style={{ display: "block" }} />;
}
